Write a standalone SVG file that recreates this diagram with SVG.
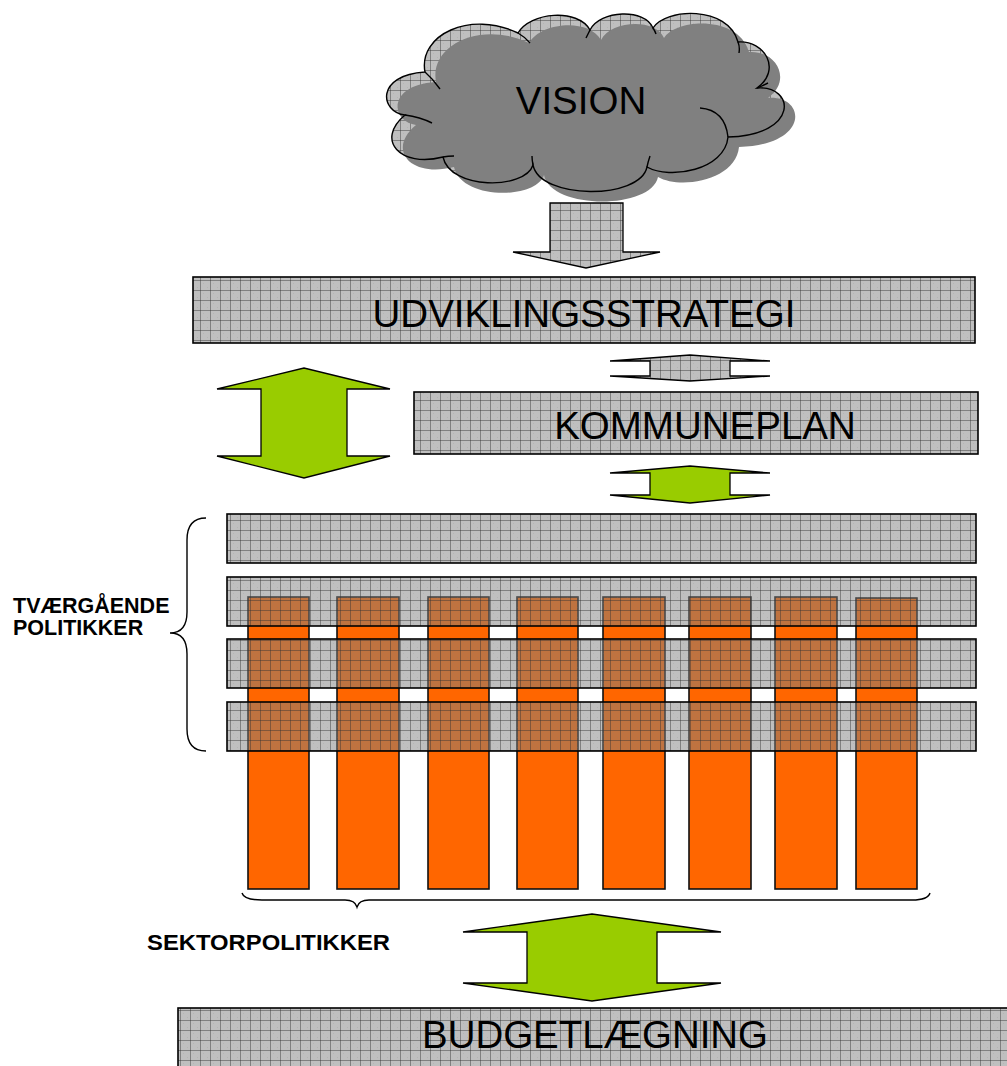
<svg xmlns="http://www.w3.org/2000/svg" width="1007" height="1066" viewBox="0 0 1007 1066">
<style>
.box{fill:url(#grid);stroke:#000;stroke-width:1.6}
.bar{fill:#ff6600;stroke:#111;stroke-width:1.6}
.green{fill:#99cc00;stroke:#000;stroke-width:1.3;stroke-linejoin:miter}
.grayarrow{fill:url(#grid);stroke:#000;stroke-width:1.3}
.big{font-family:"Liberation Sans",Arial,sans-serif;font-size:38.5px;fill:#000;text-anchor:middle}
.lbl{font-family:"Liberation Sans",Arial,sans-serif;font-size:21.5px;font-weight:bold;fill:#000}
.brace{fill:none;stroke:#000;stroke-width:1.4}
.cl{fill:none;stroke:#000;stroke-width:1.4}
</style>
<defs>
<pattern id="grid" patternUnits="userSpaceOnUse" width="10" height="10">
<rect width="10" height="10" fill="#808080" fill-opacity="0.5"/>
<rect x="3" y="3" width="1" height="1" fill="#808080" fill-opacity="0.15"/>
<rect x="7" y="7" width="1" height="1" fill="#808080" fill-opacity="0.15"/>
<path d="M0,0.5H10M0.5,0V10" stroke="#333" stroke-opacity="0.45" stroke-width="1"/>
</pattern>
<path id="cloudShape" d="M425,72 C418,35 470,10 518,33 C530,12 578,8 590,30 C600,10 645,8 653,28 C665,8 728,5 738,42 C765,40 782,70 757,88 C795,85 800,135 728,137 C725,170 670,180 647,167 C640,200 540,200 533,165 C525,190 450,190 443,157 C400,168 375,140 405,115 C380,112 375,75 425,72 Z"/>
</defs>

<g id="vision">
<use href="#cloudShape" fill="url(#grid)"/>
<use href="#cloudShape" fill="#808080" transform="translate(11,10)"/>
<use href="#cloudShape" class="cl"/>
<path class="cl" d="M425,72 Q433,79 440,89 M518,33 Q525,37 530,43 M590,30 Q588,34 586,38 M653,28 Q655,31 656,34 M738,42 Q740,47 739,53 M757,88 Q762,86 768,83 M700,108 Q725,110 728,137 M647,167 Q648,162 650,156 M533,165 Q532,160 532,156 M443,157 Q448,156 454,156 M405,115 Q420,117 432,123"/>
<text class="big" x="581" y="114">VISION</text>
</g>

<g id="udviklingsstrategi">
<rect class="box" x="193" y="277" width="782" height="66"/>
<text class="big" x="584" y="327">UDVIKLINGSSTRATEGI</text>
</g>

<g id="kommuneplan">
<rect class="box" x="414" y="392" width="564" height="62"/>
<text class="big" x="705" y="439">KOMMUNEPLAN</text>
</g>

<g id="sektorbars">
<rect class="bar" x="248" y="597" width="61" height="292"/>
<rect class="bar" x="337" y="597" width="62" height="292"/>
<rect class="bar" x="428" y="597" width="61" height="292"/>
<rect class="bar" x="517" y="597" width="61" height="292"/>
<rect class="bar" x="603" y="597" width="62" height="292"/>
<rect class="bar" x="689" y="597" width="62" height="292"/>
<rect class="bar" x="775" y="597" width="62" height="292"/>
<rect class="bar" x="856" y="598" width="61" height="291"/>
</g>

<g id="tvaergaaende">
<rect class="box" x="227" y="514" width="749" height="49"/>
<rect class="box" x="227" y="577" width="749" height="49"/>
<rect class="box" x="227" y="639" width="749" height="49"/>
<rect class="box" x="227" y="702" width="749" height="49"/>
</g>

<g id="braces">
<path class="brace" d="M206,518 Q187,518 187,540 L187,612 Q187,633 170,633 Q187,633 187,654 L187,729 Q187,751 206,751"/>
<path class="brace" d="M242,893 Q244,900 262,900 L345,900 Q355,900 357,907 Q359,900 369,900 L912,900 Q928,900 930,893"/>
</g>

<g id="labels">
<text class="lbl" x="13" y="613">TVÆRGÅENDE</text>
<text class="lbl" x="13" y="635">POLITIKKER</text>
<text class="lbl" x="147" y="950" textLength="243" lengthAdjust="spacingAndGlyphs">SEKTORPOLITIKKER</text>
</g>

<g id="budgetlaegning">
<rect class="box" x="178" y="1008" width="840" height="70"/>
<text class="big" x="595" y="1048" textLength="346" lengthAdjust="spacingAndGlyphs">BUDGETLÆGNING</text>
</g>

<g id="connectors">
<polygon class="grayarrow" stroke="#444" points="550,203 623,203 623,252 660,252 586,268 513,252 550,252"/>
<polygon class="grayarrow" points="610,361 690,355 770,361 730,361 730,376 770,376 690,381 610,376 650,376 650,361"/>
<polygon class="green" points="217,389 304,368 390,389 347,389 347,456 390,456 304,478 217,456 261,456 261,389"/>
<polygon class="green" points="610,473 690,466 770,473 730,473 730,495 770,495 690,503 610,495 650,495 650,473"/>
<polygon class="green" points="463,932 592,914 721,932 657,932 657,983 721,983 592,1001 463,983 527,983 527,932"/>
</g>
</svg>
